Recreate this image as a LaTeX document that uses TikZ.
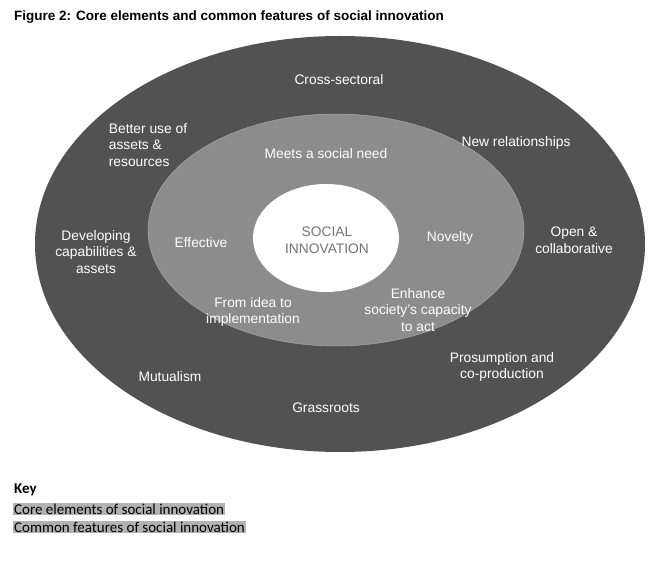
\documentclass[tikz,border=0pt]{standalone}
\usepackage{fontspec}
\setmainfont{Liberation Sans}
\newfontfamily\keyfont{Carlito}
\begin{document}
\begin{tikzpicture}[x=1pt,y=-1pt,
  lbl/.style={text=white,font=\fontsize{13.8}{16.5}\selectfont,align=center},
  keyl/.style={fill=black!30,inner sep=1pt,anchor=west,font=\keyfont\fontsize{15}{17}\selectfont}]
\useasboundingbox (0,0) rectangle (659,564);
\node[anchor=west,inner sep=0pt,font=\bfseries\fontsize{13.5}{16}\selectfont] (title) at (14,17) {Figure 2: Core elements and common features of social innovation};
\fill[fill=black!68] (340,244) ellipse [x radius=305, y radius=208];
\node (outer) at (340,244) {};
\fill[fill=black!45,draw=black!30] (336,230) ellipse [x radius=188, y radius=116];
\fill[white] (326,238) ellipse [x radius=73, y radius=54];
\node[text=black!55,font=\fontsize{13.8}{16.5}\selectfont,align=center] (si) at (327,240) {SOCIAL\\INNOVATION};
\node[lbl] (a) at (339,80) {Cross-sectoral};
\node[lbl,align=left] (b) at (148,145) {Better use of\\assets \&\\resources};
\node[lbl] (c) at (516,143) {New relationships};
\node[lbl] (d) at (574,240) {Open \&\\collaborative};
\node[lbl] (e) at (96,252) {Developing\\capabilities \&\\assets};
\node[lbl] (f) at (502,367) {Prosumption and\\co-production};
\node[lbl] (g) at (170,377) {Mutualism};
\node[lbl] (h) at (326,408) {Grassroots};
\node[lbl] (i) at (326,154) {Meets a social need};
\node[lbl] (j) at (201,243) {Effective};
\node[lbl] (k) at (450,238) {Novelty};
\node[lbl] (l) at (253,312) {From idea to\\implementation};
\node[lbl] (m) at (418,310) {Enhance\\society's capacity\\to act};
\node[anchor=west,inner sep=0pt,font=\keyfont\bfseries\fontsize{15}{17}\selectfont] (key) at (14,490) {Key};
\node[keyl] (k1) at (13,509) {Core elements of social innovation};
\node[keyl] (k2) at (13,527) {Common features of social innovation};
\end{tikzpicture}
\end{document}
